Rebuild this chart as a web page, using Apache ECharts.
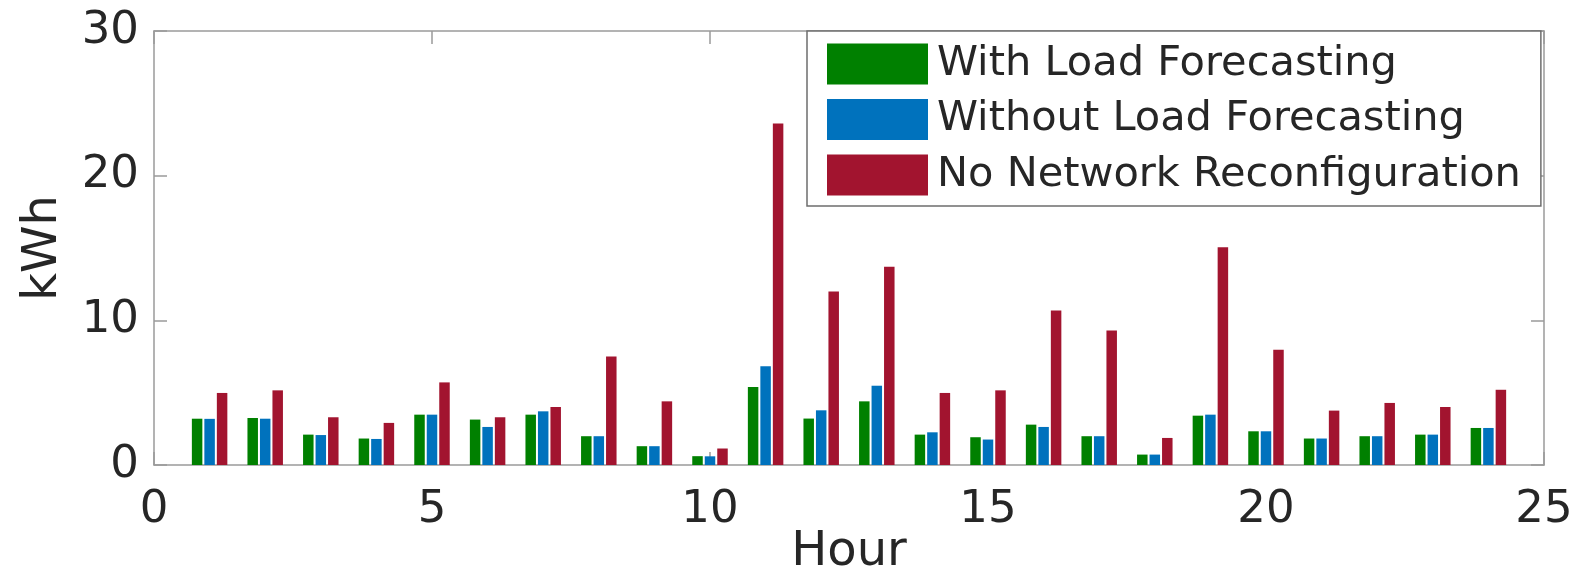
<!DOCTYPE html>
<html>
<head>
<meta charset="utf-8">
<script src="https://cdn.jsdelivr.net/npm/echarts@6/dist/echarts.min.js"></script>
<style>html,body{margin:0;padding:0;background:#fff;}#c{width:1577px;height:573px;}</style>
</head>
<body>
<div id="c"></div>
<script>
const hours = [1,2,3,4,5,6,7,8,9,10,11,12,13,14,15,16,17,18,19,20,21,22,23,24];
const withForecast = [3.2,3.25,2.1,1.83,3.48,3.14,3.48,1.99,1.3,0.61,5.39,3.21,4.4,2.1,1.92,2.79,1.99,0.72,3.41,2.33,1.83,1.99,2.1,2.56];
const withoutForecast = [3.19,3.2,2.07,1.8,3.48,2.63,3.71,1.99,1.3,0.6,6.82,3.78,5.48,2.26,1.76,2.63,1.99,0.72,3.48,2.33,1.83,1.99,2.1,2.56];
const noReconfig = [4.98,5.16,3.3,2.91,5.71,3.3,4.01,7.5,4.4,1.14,23.6,11.99,13.71,4.98,5.16,10.68,9.3,1.87,15.05,7.97,3.76,4.29,4.01,5.2];
const seriesNames = ['With Load Forecasting','Without Load Forecasting','No Network Reconfiguration'];
const xTicks = {min:0, max:25, interval:5};
const yTicks = {min:0, max:30, interval:10};

const FONT = 'DejaVu Sans';
const TXT = '#262626';
const AX = '#9a9a9a';
const pairs = vals => hours.map((h,i)=>[h, vals[i]]);

const axisCommon = {
  axisLine:{show:true, onZero:false, lineStyle:{color:AX, width:1.5}},
  axisTick:{show:true, inside:true, length:13, lineStyle:{color:AX, width:1.5}},
  splitLine:{show:false}
};

const chart = echarts.init(document.getElementById('c'));
chart.setOption({
  animation:false,
  backgroundColor:'#fff',
  grid:{left:154, right:33, top:31, bottom:108, containLabel:false, outerBoundsMode:'none'},
  legend:{
    show:true, orient:'vertical', left:807, top:31,
    padding:[12,20,10,20], itemGap:13.5, itemWidth:101, itemHeight:41,
    icon:'rect', backgroundColor:'#fff', borderColor:'#6e6e6e', borderWidth:1.5,
    textStyle:{fontFamily:FONT, fontSize:41.5, color:TXT, padding:[0,0,0,4]},
    data:seriesNames
  },
  xAxis:[
    Object.assign({type:'value', position:'bottom', min:xTicks.min, max:xTicks.max, interval:xTicks.interval,
      name:'Hour', nameLocation:'middle', nameGap:64, nameMoveOverlap:false,
      nameTextStyle:{fontFamily:FONT, fontSize:48, color:TXT},
      axisLabel:{fontFamily:FONT, fontSize:45, color:TXT, margin:23}}, axisCommon),
    Object.assign({type:'value', position:'top', min:xTicks.min, max:xTicks.max, interval:xTicks.interval,
      axisLabel:{show:false}}, axisCommon)
  ],
  yAxis:[
    Object.assign({type:'value', position:'left', min:yTicks.min, max:yTicks.max, interval:yTicks.interval,
      name:'kWh', nameLocation:'middle', nameGap:86, nameMoveOverlap:false,
      nameTextStyle:{fontFamily:FONT, fontSize:48, color:TXT},
      axisLabel:{fontFamily:FONT, fontSize:45, color:TXT, margin:15}}, axisCommon),
    Object.assign({type:'value', position:'right', min:yTicks.min, max:yTicks.max, interval:yTicks.interval,
      axisLabel:{show:false}}, axisCommon)
  ],
  series:[
    {name:seriesNames[0], type:'bar', xAxisIndex:0, yAxisIndex:0, data:pairs(withForecast),
     barWidth:10.5, barGap:'19%', itemStyle:{color:'#008000'}},
    {name:seriesNames[1], type:'bar', xAxisIndex:0, yAxisIndex:0, data:pairs(withoutForecast),
     barWidth:10.5, barGap:'19%', itemStyle:{color:'#0072BD'}},
    {name:seriesNames[2], type:'bar', xAxisIndex:0, yAxisIndex:0, data:pairs(noReconfig),
     barWidth:10.5, barGap:'19%', itemStyle:{color:'#A2142F'}}
  ]
});
</script>
</body>
</html>
